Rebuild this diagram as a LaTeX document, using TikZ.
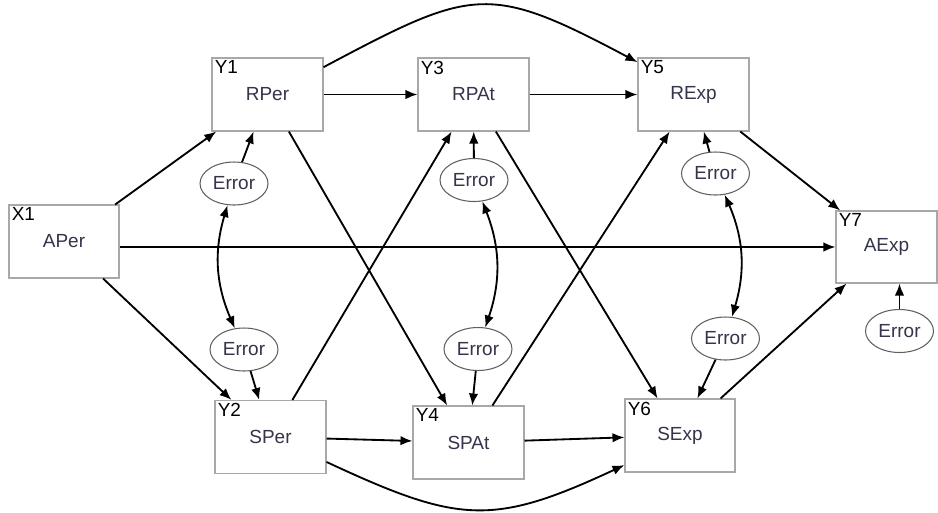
\documentclass[tikz,border=0pt]{standalone}
\usepackage{fontspec}
\setmainfont{Liberation Sans}
\usetikzlibrary{arrows.meta, shapes.geometric}
\definecolor{boxGray}{HTML}{A8A8A8}
\definecolor{errGray}{HTML}{606060}
\definecolor{nameText}{HTML}{34344A}

\begin{document}
\begin{tikzpicture}[x=0.02cm, y=-0.02cm,
    font=\fontsize{10.8}{12}\selectfont,
    varBox/.style={rectangle, draw=boxGray, line width=0.6pt, minimum width=2.22cm, minimum height=1.46cm, inner sep=0pt, text=nameText},
    errNode/.style={ellipse, draw=errGray, line width=0.6pt, minimum width=1.36cm, minimum height=0.86cm, inner sep=0pt, text=nameText},
    tagText/.style={anchor=north west, inner sep=0.06cm, text=black},
    effect/.style={line width=1.05pt, -{Latex[length=0.24cm, width=0.19cm]}},
    covar/.style={line width=1.05pt, {Latex[length=0.24cm, width=0.19cm]}-{Latex[length=0.24cm, width=0.19cm]}}]
\useasboundingbox (0,0) rectangle (938,512);
\fill[white] (0,0) rectangle (938,512);

\node[varBox, minimum width=2.2cm] (aPer) at (64,241.5) {APer};
\node[tagText] (aPerTag) at (aPer.north west) {X1};
\node[varBox] (rPer) at (267.5,94.5) {RPer};
\node[tagText] (rPerTag) at (rPer.north west) {Y1};
\node[varBox] (sPer) at (270.5,437) {SPer};
\node[tagText] (sPerTag) at (sPer.north west) {Y2};
\node[varBox] (rPAt) at (473.5,94.5) {RPAt};
\node[tagText] (rPAtTag) at (rPAt.north west) {Y3};
\node[varBox] (sPAt) at (468.5,442.5) {SPAt};
\node[tagText] (sPAtTag) at (sPAt.north west) {Y4};
\node[varBox] (rExp) at (693.5,94.5) {RExp};
\node[tagText] (rExpTag) at (rExp.north west) {Y5};
\node[varBox, minimum width=2.2cm] (sExp) at (680,435.5) {SExp};
\node[tagText] (sExpTag) at (sExp.north west) {Y6};
\node[varBox, minimum width=2.02cm, minimum height=1.44cm] (aExp) at (886.5,247) {AExp};
\node[tagText] (aExpTag) at (aExp.north west) {Y7};

\node[errNode] (errRPer) at (234,183.5) {Error};
\node[errNode] (errSPer) at (244,349.5) {Error};
\node[errNode] (errRPAt) at (474,180) {Error};
\node[errNode] (errSPAt) at (478,349) {Error};
\node[errNode] (errRExp) at (715.5,173.5) {Error};
\node[errNode] (errSExp) at (725.5,338.5) {Error};
\node[errNode] (errAExp) at (899.5,331) {Error};

\draw[effect] (aPer) -- (rPer);
\draw[effect] (aPer) -- (sPer);
\draw[effect] (aPer.east |- aExp.west) -- (aExp.west);
\draw[effect] (rPer) -- (rPAt);
\draw[effect] (rPAt) -- (rExp);
\draw[effect] (rPer.26) to[out=28, in=152, looseness=1.38] (rExp.150);
\draw[effect] (rPer) -- (sPAt);
\draw[effect] (sPer) -- (rPAt);
\draw[effect] (rPAt) -- (sExp);
\draw[effect] (sPAt) -- (rExp);
\draw[effect] (rExp) -- (aExp);
\draw[effect] (sExp) -- (aExp);
\draw[effect] (sPer) -- (sPAt);
\draw[effect] (sPAt) -- (sExp);
\draw[effect] (sPer.-24) to[out=-25, in=-155, looseness=1.25] (sExp.-152);

\draw[effect] (errRPer) -- (rPer);
\draw[effect] (errSPer) -- (sPer);
\draw[effect] (errRPAt) -- (rPAt);
\draw[effect] (errSPAt) -- (sPAt);
\draw[effect] (errRExp) -- (rExp);
\draw[effect] (errSExp) -- (sExp);
\draw[effect] (errAExp) -- (errAExp |- aExp.south);

\draw[covar] (errRPer) to[bend right=20] (errSPer);
\draw[covar] (errRPAt) to[bend left=20] (errSPAt);
\draw[covar] (errRExp) to[bend left=20] (errSExp);
\end{tikzpicture}
\end{document}
